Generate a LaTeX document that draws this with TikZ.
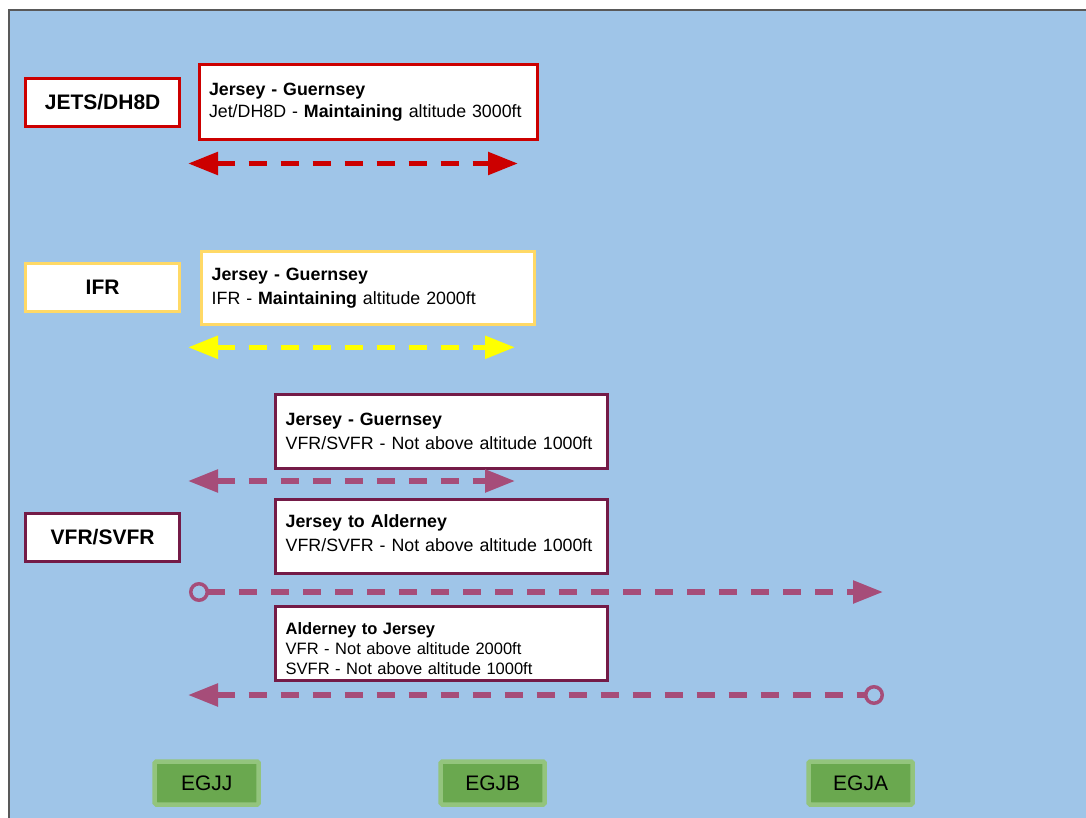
\documentclass[tikz,border=0pt]{standalone}
\usepackage{fontspec}
\setmainfont{Liberation Sans}
\usetikzlibrary{arrows.meta}

\definecolor{skyblue}{HTML}{9FC5E8}
\definecolor{framegrey}{HTML}{595959}
\definecolor{jetred}{HTML}{CC0000}
\definecolor{ifrborder}{HTML}{FFD966}
\definecolor{ifrarrow}{HTML}{FFFF00}
\definecolor{vfrborder}{HTML}{741B47}
\definecolor{vfrarrow}{HTML}{A64D79}
\definecolor{egfill}{HTML}{6AA84F}
\definecolor{egborder}{HTML}{93C47D}

\tikzset{
  classbox/.style={draw, fill=white, line width=3pt, inner sep=0pt,
    minimum width=154pt, minimum height=48pt,
    font=\fontsize{21}{25}\selectfont\bfseries},
  routebox/.style={draw, fill=white, line width=3pt, inner xsep=10pt,
    inner ysep=0pt, minimum height=74pt, align=left,
    font=\fontsize{17.8}{24}\selectfont},
  aerodrome/.style={draw=egborder, fill=egfill, line width=4.5pt,
    rounded corners=1.5pt, minimum width=104pt, minimum height=43pt,
    inner sep=0pt, font=\fontsize{21}{25}\selectfont},
  flightline/.style={line width=5.5pt, dash pattern=on 18pt off 14pt},
  bigtri/.tip={Triangle[length=30pt,width=22pt]},
  ring/.tip={Circle[length=20pt,line width=3.5pt,fill=skyblue]},
}

\begin{document}
\begin{tikzpicture}[x=1pt,y=-1pt]
\useasboundingbox (0,0) rectangle (1086,818);
\fill[white] (0,0) rectangle (1086,818);
\fill[skyblue] (9,10) rectangle (1086,818);
\draw[framegrey, line width=1.3pt] (9,818) -- (9,10) -- (1086,10);

% jets
\node[classbox, draw=jetred] (jets) at (102.6,102.2) {JETS/DH8D};
\node[routebox, draw=jetred, text width=318pt, minimum height=75pt] (jetsroute) at (368,102.2)
  {\textbf{Jersey - Guernsey}\\[-2pt]
   Jet/DH8D - \textbf{Maintaining} altitude 3000ft};
\coordinate (jetsL) at (188,163.5);
\coordinate (jetsR) at (518,163.5);
\draw[flightline, jetred, bigtri-bigtri] (jetsL) -- (jetsR);

% ifr
\node[classbox, draw=ifrborder] (ifr) at (102.6,287.7) {IFR};
\node[routebox, draw=ifrborder, text width=313pt, minimum height=73pt] (ifrroute) at (368.2,288)
  {\textbf{Jersey - Guernsey}\\
   IFR - \textbf{Maintaining} altitude 2000ft};
\coordinate (ifrL) at (188,347.3);
\coordinate (ifrR) at (515,347.3);
\draw[flightline, ifrarrow, bigtri-bigtri] (ifrL) -- (ifrR);

% vfr / svfr
\node[classbox, draw=vfrborder] (vfr) at (102.6,537) {VFR/SVFR};
\node[routebox, draw=vfrborder, text width=312pt] (jgroute) at (441.7,431)
  {\textbf{Jersey - Guernsey}\\
   VFR/SVFR - Not above altitude 1000ft};
\coordinate (jgL) at (188,481);
\coordinate (jgR) at (515,481);
\draw[flightline, vfrarrow, bigtri-bigtri] (jgL) -- (jgR);

\node[routebox, draw=vfrborder, text width=312pt] (jaroute) at (441.7,536.7)
  {\textbf{Jersey to Alderney}\\
   VFR/SVFR - Not above altitude 1000ft\rule[-8pt]{0pt}{8pt}};
\coordinate (jaL) at (189,592);
\coordinate (jaR) at (883,592);
\draw[flightline, vfrarrow, ring-bigtri] (jaL) -- (jaR);

\node[routebox, draw=vfrborder, text width=312pt, font=\fontsize{16.5}{20}\selectfont] (ajroute) at (441.7,643.8)
  {\rule{0pt}{22pt}\textbf{Alderney to Jersey}\\
   VFR - Not above altitude 2000ft\\
   SVFR - Not above altitude 1000ft};
\coordinate (ajL) at (188,695);
\coordinate (ajR) at (884,695);
\draw[flightline, vfrarrow, bigtri-ring] (ajL) -- (ajR);

% aerodromes
\node[aerodrome] (egjj) at (206.7,783) {EGJJ};
\node[aerodrome] (egjb) at (492.7,783) {EGJB};
\node[aerodrome] (egja) at (860.6,783) {EGJA};
\end{tikzpicture}
\end{document}
